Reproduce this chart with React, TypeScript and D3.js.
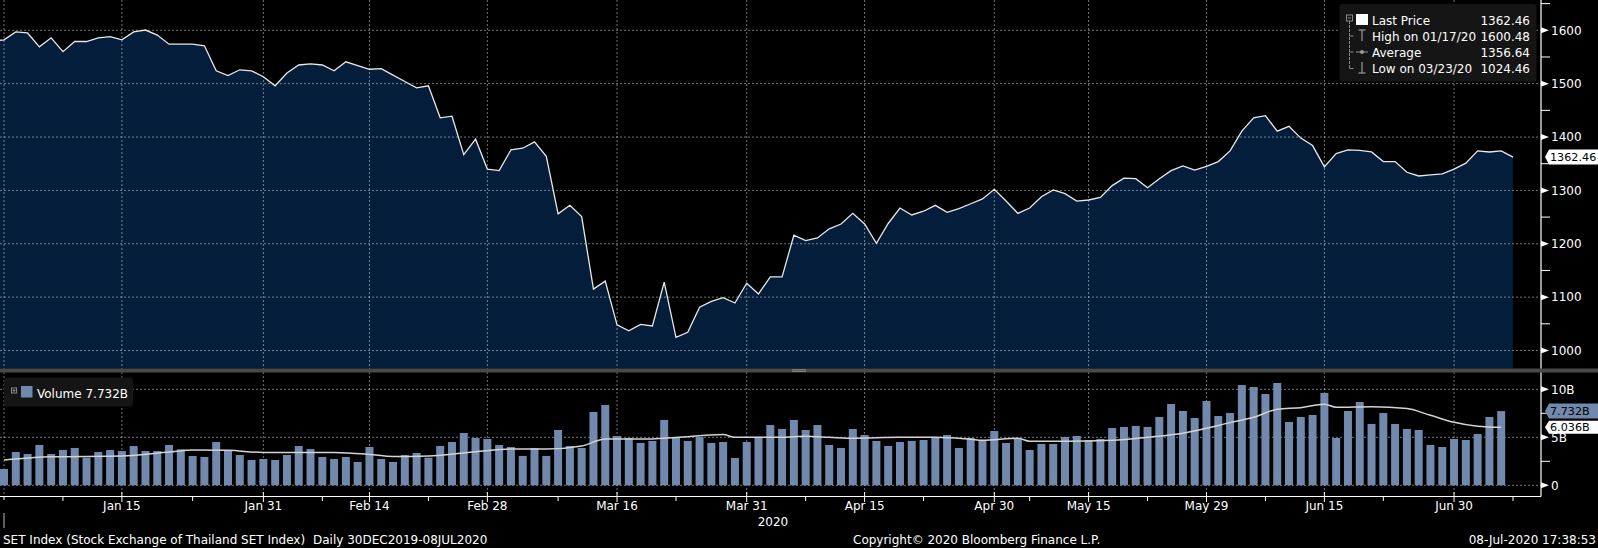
import * as d3 from 'd3'

// SET Index daily close, 30 Dec 2019 .. 08 Jul 2020 (one value per trading day)
const priceValues = [
  1582, 1597, 1595, 1569, 1586, 1560, 1579, 1579, 1586, 1588,
  1582, 1597, 1600.48, 1591, 1574, 1574, 1574, 1571, 1524, 1515,
  1526, 1524, 1513, 1496, 1520, 1535, 1537, 1535, 1524, 1541,
  1534, 1527, 1528, 1516, 1504, 1492, 1496, 1436, 1439, 1367,
  1396, 1340, 1337, 1376, 1379, 1391, 1364, 1256, 1272, 1251,
  1115, 1130, 1048, 1037, 1049, 1046, 1128, 1024.46, 1034, 1081,
  1092, 1099, 1089, 1126, 1106, 1138, 1138, 1216, 1206, 1211,
  1228, 1237, 1257, 1237, 1201, 1238, 1267, 1254, 1261, 1272,
  1259, 1266, 1275, 1284, 1302, 1280, 1257, 1267, 1288, 1301,
  1294, 1280, 1282, 1287, 1309, 1323, 1322, 1305, 1322, 1337,
  1346, 1338, 1345, 1354, 1374, 1411, 1436, 1440, 1411, 1420,
  1398, 1384, 1344, 1369, 1376, 1375, 1372, 1354, 1354, 1334,
  1327, 1329, 1331, 1340, 1351, 1374, 1372, 1374, 1362.46,
]
// close of the trading day before the window (seen at the left edge)
const priorClose = 1580

// volume in billions
const volumeValues = [
  1.70, 3.47, 3.26, 4.20, 3.26, 3.68, 3.89, 2.88, 3.47, 3.68,
  3.57, 4.09, 3.57, 3.57, 4.20, 3.75, 3.05, 2.95, 4.51, 3.68,
  3.16, 2.64, 2.74, 2.64, 3.16, 4.09, 3.78, 2.95, 2.74, 2.95,
  2.43, 3.99, 2.74, 2.43, 3.16, 3.37, 2.88, 4.10, 4.51, 5.45,
  4.93, 4.83, 4.20, 3.99, 3.06, 3.89, 3.06, 5.76, 4.10, 3.89,
  7.64, 8.37, 5.14, 4.93, 4.41, 4.62, 6.81, 4.93, 4.62, 5.03,
  4.41, 4.51, 2.85, 4.51, 4.93, 6.28, 5.87, 6.81, 5.76, 6.28,
  4.20, 3.89, 5.87, 5.24, 4.62, 4.10, 4.51, 4.62, 4.72, 4.93,
  5.24, 3.89, 4.93, 4.72, 5.66, 4.41, 4.93, 3.68, 4.31, 4.31,
  5.03, 5.14, 4.72, 4.83, 5.97, 6.08, 6.18, 6.08, 7.12, 8.47,
  7.74, 7.01, 8.78, 7.22, 7.53, 10.45, 10.24, 9.51, 10.66, 6.60,
  7.12, 7.33, 9.62, 4.93, 7.74, 8.68, 6.39, 7.53, 6.39, 5.87,
  5.76, 4.20, 3.99, 4.83, 4.72, 5.35, 7.12, 7.732,
]

// moving average of volume, read at some trading-day indexes: [index, billions]
const volumeAvg: [number, number][] = [
  [0, 2.63], [4, 2.97], [10, 3.04], [14, 3.46], [16, 3.68], [19, 3.64],
  [22, 3.42], [28, 3.42], [31, 3.22], [33, 3.0], [36, 3.06], [40, 3.5],
  [43, 3.78], [46, 3.78], [49, 4.1], [51, 4.83], [55, 4.83], [57, 4.97],
  [61, 5.28], [62, 5.0], [66, 5.0], [68, 5.1], [70, 5.0], [72, 4.9],
  [76, 5.0], [79, 5.0], [82, 4.79], [83, 4.69], [86, 4.9], [87, 4.58],
  [90, 4.58], [94, 4.69], [97, 5.0], [100, 5.42], [102, 5.94], [104, 6.53],
  [106, 7.08], [108, 7.92], [110, 8.09], [112, 8.44], [113, 8.13], [116, 8.19],
  [119, 7.99], [121, 7.29], [123, 6.56], [125, 6.15], [127, 6.036],
]

const holidays = [
  '2019-12-31', '2020-01-01', '2020-02-10', '2020-04-06', '2020-05-01',
  '2020-05-04', '2020-05-06', '2020-06-03', '2020-07-06',
]

const majorTicks = [
  '2020-01-15', '2020-01-31', '2020-02-14', '2020-02-28', '2020-03-16', '2020-03-31',
  '2020-04-15', '2020-04-30', '2020-05-15', '2020-05-29', '2020-06-15', '2020-06-30',
]
const minorTicks = [
  '2020-01-08', '2020-01-23', '2020-02-07', '2020-02-21', '2020-03-09', '2020-03-23',
  '2020-04-08', '2020-04-22', '2020-05-08', '2020-05-22', '2020-06-08', '2020-06-22', '2020-07-08',
]

const priceTicks = [1000, 1100, 1200, 1300, 1400, 1500, 1600]
const priceMinor = [1050, 1150, 1250, 1350, 1450, 1550, 1650]
const volumeTicks = [0, 5, 10]
const volumeMinor = [2.5, 7.5]

const legendRows = [
  { label: 'Last Price', value: '1362.46' },
  { label: 'High on 01/17/20', value: '1600.48' },
  { label: 'Average', value: '1356.64' },
  { label: 'Low on 03/23/20', value: '1024.46' },
]

const FONT = '"DejaVu Sans", Verdana, sans-serif'
const GRID = 'rgba(255,255,255,0.45)'
const BAR = '#7089ad'

const fmtKey = d3.timeFormat('%Y-%m-%d')
const fmtTick = d3.timeFormat('%b %-d')

const tradingDays = d3.timeDay
  .range(new Date(2019, 11, 30), new Date(2020, 6, 9))
  .filter(d => d.getDay() % 6 !== 0 && !holidays.includes(fmtKey(d)))
const dayIndex = (key: string) => tradingDays.findIndex(d => fmtKey(d) === key)

const App = () => {
  const W = 1598
  const H = 548
  const axisX = 1541
  const sepTop = 368.5
  const sepBottom = 372.5
  const baseY = 496.5

  const x = d3.scaleLinear().domain([0, tradingDays.length - 1]).range([4, 1513])
  const yP = d3.scaleLinear().domain([1000, 1600]).range([350.5, 30.3])
  const yV = d3.scaleLinear().domain([0, 10]).range([485.3, 389.3])

  // price points with their trading-day index; the prior close sits at index -1
  const pricePts: [number, number][] = [[-1, priorClose], ...priceValues.map((v, i) => [i, v] as [number, number])]

  const area = d3.area<[number, number]>()
    .x(d => x(d[0]))
    .y0(sepTop)
    .y1(d => yP(d[1]))
  const line = d3.line<[number, number]>()
    .x(d => x(d[0]))
    .y(d => yP(d[1]))
  const avgLine = d3.line<[number, number]>()
    .x(d => x(d[0]))
    .y(d => yV(d[1]))
    .curve(d3.curveMonotoneX)

  const lastPrice = priceValues[priceValues.length - 1]
  const lastVol = volumeValues[volumeValues.length - 1]
  const lastAvg = volumeAvg[volumeAvg.length - 1][1]

  const arrowBox = (yc: number, h: number) =>
    `M ${axisX + 4} ${yc} L ${axisX + 8} ${yc - h / 2} L ${W} ${yc - h / 2} L ${W} ${yc + h / 2} L ${axisX + 8} ${yc + h / 2} Z`

  const txt = { fontFamily: FONT, fontSize: 12, fill: '#fff' }
  const flagTxt = { fontFamily: FONT, fontSize: 11.2, fill: '#000' }

  return (
    <div style={{ position: 'absolute', left: 0, top: 0, width: W, height: H, background: '#000' }}>
      <svg width={W} height={H} style={{ display: 'block' }}>
        <rect width={W} height={H} fill="#000" />
        <defs>
          <clipPath id="pricePlot">
            <rect x={0} y={0} width={axisX} height={sepTop} />
          </clipPath>
        </defs>

        {/* price area */}
        <g clipPath="url(#pricePlot)">
          <path d={area(pricePts) ?? ''} fill="#031d3a" />
        </g>

        {/* grid */}
        {priceTicks.map(t => (
          <line key={'pg' + t} x1={0} x2={axisX} y1={yP(t)} y2={yP(t)}
            stroke={GRID} strokeDasharray="2,2" />
        ))}
        {volumeTicks.map(t => (
          <line key={'vg' + t} x1={0} x2={axisX} y1={yV(t)} y2={yV(t)}
            stroke={GRID} strokeDasharray="2,2" />
        ))}
        {[0, ...majorTicks.map(dayIndex)].map(i => (
          <line key={'xg' + i} x1={x(i)} x2={x(i)} y1={0} y2={baseY}
            stroke={GRID} strokeDasharray="2,2" />
        ))}

        {/* price line */}
        <g clipPath="url(#pricePlot)">
          <path d={line(pricePts) ?? ''} fill="none" stroke="#e8e8e8" strokeWidth={1.3} />
        </g>

        {/* volume */}
        {volumeValues.map((v, i) => (
          <rect key={'b' + i} x={x(i) - 4} y={yV(v)} width={8} height={yV(0) - yV(v)} fill={BAR} />
        ))}
        <path d={avgLine(volumeAvg) ?? ''} fill="none" stroke="#d4d4d4" strokeWidth={1.5} />

        {/* panel separator */}
        <rect x={0} y={sepTop} width={W} height={sepBottom - sepTop} fill="#4a4a4a" />
        <line x1={792} x2={806} y1={369.8} y2={369.8} stroke="#9a9a9a" strokeWidth={0.8} />
        <line x1={792} x2={806} y1={371.4} y2={371.4} stroke="#9a9a9a" strokeWidth={0.8} />

        {/* right axis */}
        <line x1={axisX} x2={axisX} y1={0} y2={sepTop} stroke="#fff" strokeWidth={1.2} />
        <line x1={axisX} x2={axisX} y1={sepBottom} y2={baseY} stroke="#fff" strokeWidth={1.2} />
        {priceMinor.map(t => (
          <line key={'pm' + t} x1={axisX} x2={axisX + 9} y1={yP(t)} y2={yP(t)} stroke="#fff" />
        ))}
        {volumeMinor.map(t => (
          <line key={'vm' + t} x1={axisX} x2={axisX + 9} y1={yV(t)} y2={yV(t)} stroke="#fff" />
        ))}
        {priceTicks.map(t => (
          <g key={'pt' + t}>
            <path d={`M ${axisX} ${yP(t) - 3} L ${axisX + 8} ${yP(t)} L ${axisX} ${yP(t) + 3} Z`} fill="#fff" />
            <text x={axisX + 10} y={yP(t)} dy="0.36em" style={txt}>{t}</text>
          </g>
        ))}
        {/* 5B sits partly under the average flag, as in the original */}
        {volumeTicks.map(t => (
          <g key={'vt' + t}>
            <path d={`M ${axisX} ${yV(t) - 3} L ${axisX + 8} ${yV(t)} L ${axisX} ${yV(t) + 3} Z`} fill="#fff" />
            <text x={axisX + 10} y={yV(t)} dy="0.36em" style={txt}>{t === 0 ? '0' : t + 'B'}</text>
          </g>
        ))}

        {/* last value flags */}
        <path d={arrowBox(yP(lastPrice), 15)} fill="#fff" />
        <text x={axisX + 9} y={yP(lastPrice)} dy="0.36em" style={flagTxt}>
          {lastPrice.toFixed(2)}
        </text>
        <path d={arrowBox(yV(lastVol), 15)} fill={BAR} />
        <text x={axisX + 9} y={yV(lastVol)} dy="0.36em" style={flagTxt}>
          {lastVol.toFixed(3)}B
        </text>
        <path d={arrowBox(yV(lastAvg), 13)} fill="#fff" />
        <text x={axisX + 9} y={yV(lastAvg)} dy="0.36em" style={flagTxt}>
          {lastAvg.toFixed(3)}B
        </text>

        {/* bottom axis */}
        <line x1={0} x2={axisX} y1={baseY} y2={baseY} stroke="#fff" strokeWidth={1.2} />
        {majorTicks.map(k => {
          const i = dayIndex(k)
          return (
            <g key={'xt' + k}>
              <line x1={x(i)} x2={x(i)} y1={492} y2={502} stroke="#fff" />
              <text x={x(i)} y={510} textAnchor="middle" style={txt}>
                {fmtTick(tradingDays[i])}
              </text>
            </g>
          )
        })}
        {minorTicks.map(k => {
          const i = dayIndex(k)
          return <line key={'xm' + k} x1={x(i)} x2={x(i)} y1={baseY} y2={501} stroke="#fff" />
        })}
        <line x1={x(0)} x2={x(0)} y1={baseY} y2={500} stroke="#fff" />
        <line x1={x(0)} x2={x(0)} y1={513} y2={528} stroke="#bbb" />
        <text x={773} y={526} textAnchor="middle" style={txt}>2020</text>

        {/* footer */}
        <text x={3} y={544} style={txt}>SET Index (Stock Exchange of Thailand SET Index)</text>
        <text x={313} y={544} style={txt}>Daily 30DEC2019-08JUL2020</text>
        <text x={853} y={544} style={txt}>Copyright© 2020 Bloomberg Finance L.P.</text>
        <text x={1596} y={544} textAnchor="end" style={txt}>08-Jul-2020 17:38:53</text>

        {/* price legend */}
        <rect x={1339.5} y={4} width={197} height={77.5} rx={3} fill="#151515" />
        <rect x={1346.5} y={15} width={6} height={6} fill="none" stroke="#888" />
        <line x1={1348} x2={1351} y1={18} y2={18} stroke="#888" />
        <rect x={1356} y={14} width={12} height={11} fill="#fff" />
        <line x1={1349.5} x2={1349.5} y1={21} y2={68.5} stroke="#888" strokeDasharray="3,1" />
        {[36, 52, 68.5].map(yy => (
          <line key={'st' + yy} x1={1349.5} x2={1353.5} y1={yy} y2={yy} stroke="#888" />
        ))}
        <line x1={1358.5} x2={1365.5} y1={30} y2={30} stroke="#999" strokeWidth={1.2} />
        <line x1={1362} x2={1362} y1={30} y2={41} stroke="#999" strokeWidth={1.2} />
        <line x1={1356} x2={1368} y1={52} y2={52} stroke="#999" />
        <circle cx={1362} cy={52} r={2} fill="#999" />
        <line x1={1362} x2={1362} y1={62} y2={73} stroke="#999" strokeWidth={1.2} />
        <line x1={1358.5} x2={1365.5} y1={73} y2={73} stroke="#999" strokeWidth={1.2} />
        {legendRows.map((r, i) => (
          <g key={r.label}>
            <text x={1372} y={25 + i * 16} style={txt}>{r.label}</text>
            <text x={1530} y={25 + i * 16} textAnchor="end" style={txt}>{r.value}</text>
          </g>
        ))}

        {/* volume legend */}
        <rect x={4} y={377.5} width={129} height={29} rx={3} fill="#151515" />
        <rect x={11.5} y={388} width={5} height={5} fill="none" stroke="#888" />
        <line x1={12.5} x2={15.5} y1={390.5} y2={390.5} stroke="#888" />
        <line x1={14} x2={14} y1={389} y2={392} stroke="#888" />
        <rect x={21} y={386} width={11.5} height={11.5} fill={BAR} />
        <text x={37} y={397.5} style={txt}>Volume {lastVol.toFixed(3)}B</text>
      </svg>
    </div>
  )
}

export default App
